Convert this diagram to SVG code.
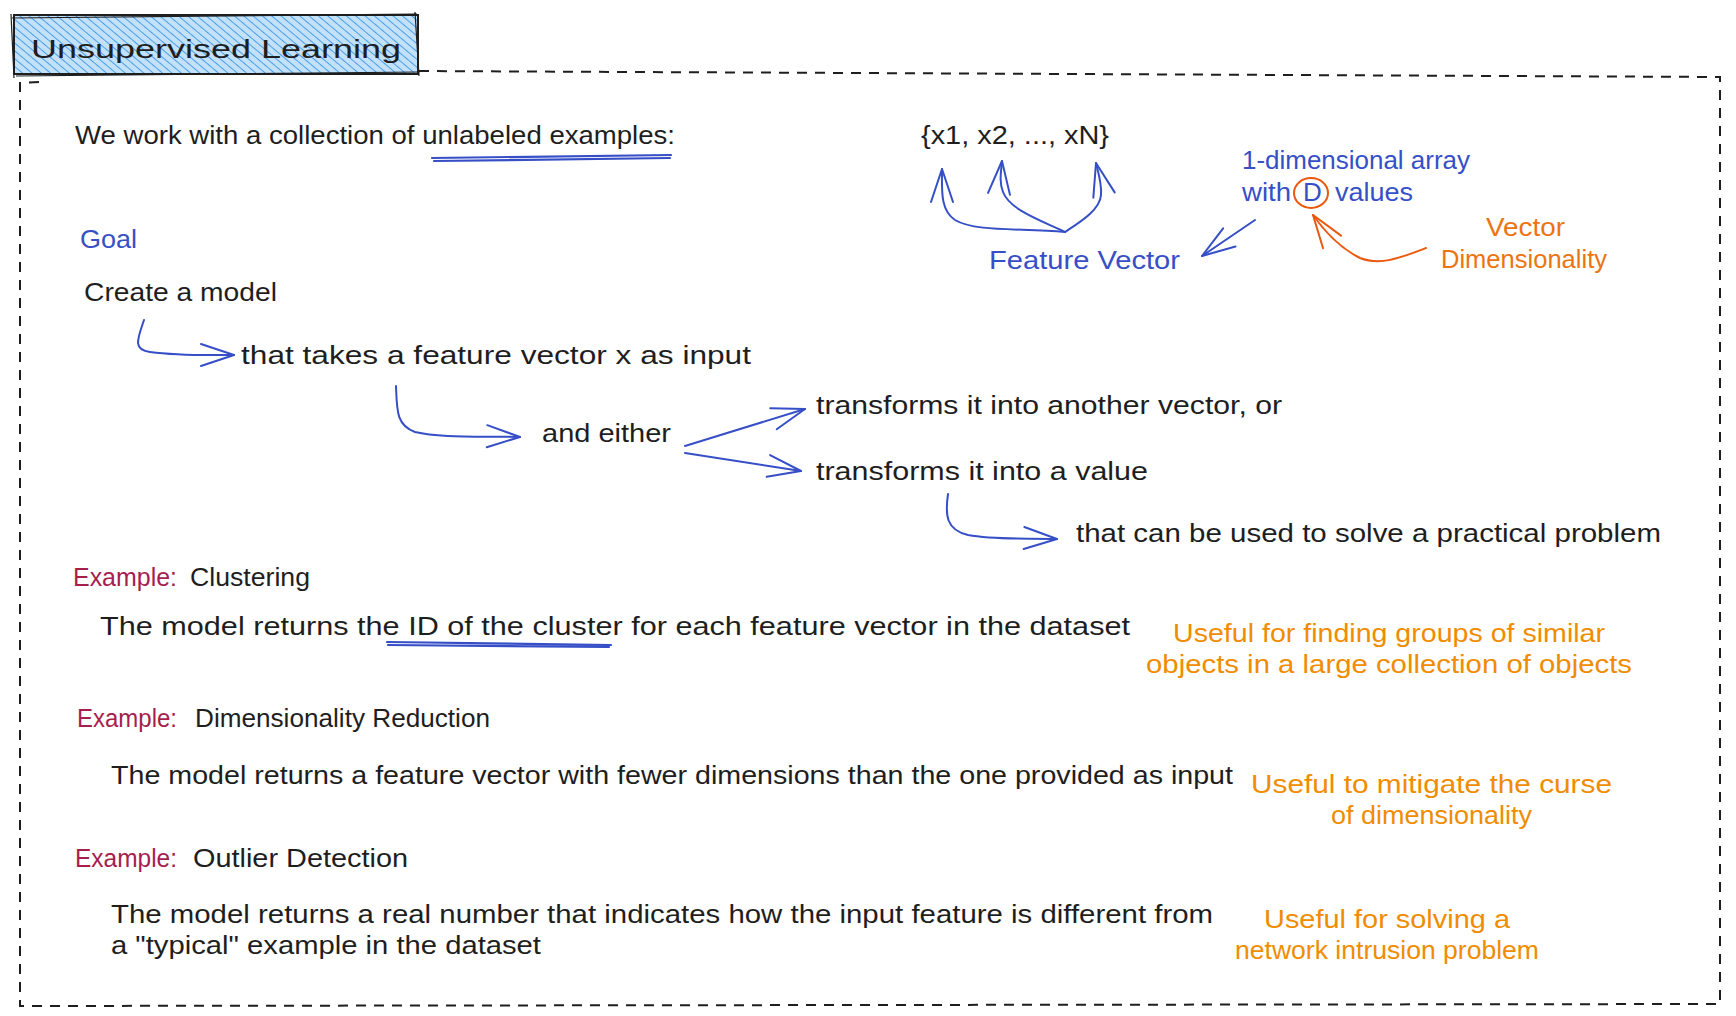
<svg xmlns="http://www.w3.org/2000/svg" width="1736" height="1016" viewBox="0 0 1736 1016">
<style>
.t{font-family:"Liberation Sans",Arial,sans-serif;font-size:26px;fill:#1e1e1e}
.blue{fill:#364fc7}
.org{fill:#f08c00}
.org2{fill:#ec7410}
.ex{fill:#a61e4d}
.c{fill:none;stroke:#364fc7;stroke-width:2;stroke-linecap:round;stroke-linejoin:round}
.co{fill:none;stroke:#e8590c;stroke-width:2;stroke-linecap:round;stroke-linejoin:round}
.ul{fill:none;stroke:#364fc7;stroke-width:2.2;stroke-linecap:round}
</style>
<defs>
<pattern id="hatch" patternUnits="userSpaceOnUse" width="6" height="6" patternTransform="rotate(-50)">
<rect width="6" height="6" fill="#c4e1fa"/>
<line x1="0" y1="0" x2="0" y2="6" stroke="#4a9fe8" stroke-width="2"/>
</pattern>
<marker id="ah" viewBox="0 0 36 26" refX="35" refY="13" markerWidth="36" markerHeight="26" markerUnits="userSpaceOnUse" orient="auto">
<path d="M2,2 L35,13 L2,24" fill="none" stroke="#364fc7" stroke-width="2" stroke-linecap="round" stroke-linejoin="round"/>
</marker>
<marker id="aho" viewBox="0 0 36 26" refX="35" refY="13" markerWidth="36" markerHeight="26" markerUnits="userSpaceOnUse" orient="auto">
<path d="M2,2 L35,13 L2,24" fill="none" stroke="#e8590c" stroke-width="2" stroke-linecap="round" stroke-linejoin="round"/>
</marker>
</defs>
<rect width="1736" height="1016" fill="#ffffff"/>

<g id="frame">
<path d="M419,71 L1720,77 L1720,1004 L20,1006 L20,83 L40,82" fill="none" stroke="#1e1e1e" stroke-width="2" stroke-dasharray="10,8"/>
</g>

<g id="title">
<rect x="14" y="15" width="404" height="59" fill="url(#hatch)" stroke="#1e1e1e" stroke-width="2"/>
<path d="M12,18 L417,14 M16,76 L420,72 M11,14 L14,78 M415,12 L419,76" fill="none" stroke="#1e1e1e" stroke-width="1.2"/>
<text class="t" x="31" y="58" font-size="40" textLength="370" lengthAdjust="spacingAndGlyphs">Unsupervised Learning</text>
</g>

<g id="intro">
<text class="t" x="75" y="144" textLength="600" lengthAdjust="spacingAndGlyphs">We work with a collection of unlabeled examples:</text>
<path class="ul" d="M432,158 L671,155 M434,161 L670,158"/>
</g>
<g id="set">
<text class="t" x="921" y="144" textLength="188" lengthAdjust="spacingAndGlyphs">{x1, x2, ..., xN}</text>
</g>
<g id="array">
<text class="t blue" x="1242" y="169" font-size="24" textLength="228" lengthAdjust="spacingAndGlyphs">1-dimensional array</text>
<text class="t blue" x="1242" y="201" font-size="24" textLength="49" lengthAdjust="spacingAndGlyphs">with</text>
<text class="t blue" x="1303" y="201" font-size="24">D</text>
<text class="t blue" x="1335" y="201" font-size="24" textLength="78" lengthAdjust="spacingAndGlyphs">values</text>
<ellipse cx="1311" cy="193" rx="17" ry="15" fill="none" stroke="#e8590c" stroke-width="2"/>
</g>
<g id="dim">
<text class="t org2" x="1486" y="236" font-size="24" textLength="79" lengthAdjust="spacingAndGlyphs">Vector</text>
<text class="t org2" x="1441" y="268" font-size="24" textLength="166" lengthAdjust="spacingAndGlyphs">Dimensionality</text>
</g>
<g id="fv">
<text class="t blue" x="989" y="269" textLength="191" lengthAdjust="spacingAndGlyphs">Feature Vector</text>
</g>
<g id="goal">
<text class="t blue" x="80" y="248" font-size="22" textLength="57" lengthAdjust="spacingAndGlyphs">Goal</text>
</g>
<g id="create">
<text class="t" x="84" y="301" textLength="193" lengthAdjust="spacingAndGlyphs">Create a model</text>
</g>
<g id="takes">
<text class="t" x="241" y="364" textLength="510" lengthAdjust="spacingAndGlyphs">that takes a feature vector x as input</text>
</g>
<g id="either">
<text class="t" x="542" y="442" textLength="129" lengthAdjust="spacingAndGlyphs">and either</text>
</g>
<g id="tvec">
<text class="t" x="816" y="414" textLength="466" lengthAdjust="spacingAndGlyphs">transforms it into another vector, or</text>
</g>
<g id="tval">
<text class="t" x="816" y="480" textLength="332" lengthAdjust="spacingAndGlyphs">transforms it into a value</text>
</g>
<g id="solve">
<text class="t" x="1076" y="542" textLength="585" lengthAdjust="spacingAndGlyphs">that can be used to solve a practical problem</text>
</g>

<g id="ex1">
<text class="t ex" x="73" y="586" font-size="24" textLength="104" lengthAdjust="spacingAndGlyphs">Example:</text>
<text class="t" x="190" y="586" font-size="24" textLength="120" lengthAdjust="spacingAndGlyphs">Clustering</text>
<text class="t" x="100" y="635" textLength="1030" lengthAdjust="spacingAndGlyphs">The model returns the ID of the cluster for each feature vector in the dataset</text>
<path class="ul" d="M387,642 L611,645 M388,645 L609,647"/>
<text class="t org" x="1173" y="642" textLength="432" lengthAdjust="spacingAndGlyphs">Useful for finding groups of similar</text>
<text class="t org" x="1146" y="673" textLength="486" lengthAdjust="spacingAndGlyphs">objects in a large collection of objects</text>
</g>
<g id="ex2">
<text class="t ex" x="77" y="727" font-size="24" textLength="100" lengthAdjust="spacingAndGlyphs">Example:</text>
<text class="t" x="195" y="727" font-size="24" textLength="295" lengthAdjust="spacingAndGlyphs">Dimensionality Reduction</text>
<text class="t" x="111" y="784" textLength="1122" lengthAdjust="spacingAndGlyphs">The model returns a feature vector with fewer dimensions than the one provided as input</text>
<text class="t org" x="1251" y="793" textLength="361" lengthAdjust="spacingAndGlyphs">Useful to mitigate the curse</text>
<text class="t org" x="1331" y="824" textLength="201" lengthAdjust="spacingAndGlyphs">of dimensionality</text>
</g>
<g id="ex3">
<text class="t ex" x="75" y="867" font-size="24" textLength="102" lengthAdjust="spacingAndGlyphs">Example:</text>
<text class="t" x="193" y="867" font-size="24" textLength="215" lengthAdjust="spacingAndGlyphs">Outlier Detection</text>
<text class="t" x="111" y="923" textLength="1102" lengthAdjust="spacingAndGlyphs">The model returns a real number that indicates how the input feature is different from</text>
<text class="t" x="111" y="954" textLength="430" lengthAdjust="spacingAndGlyphs">a "typical" example in the dataset</text>
<text class="t org" x="1264" y="928" textLength="246" lengthAdjust="spacingAndGlyphs">Useful for solving a</text>
<text class="t org" x="1235" y="959" textLength="304" lengthAdjust="spacingAndGlyphs">network intrusion problem</text>
</g>

<g id="connectors">
<path id="a-create-takes" class="c" marker-end="url(#ah)" d="M144,320 C138,338 132,350 150,352 C180,356 205,355 234,355"/>
<path id="a-takes-either" class="c" marker-end="url(#ah)" d="M396,386 C397,410 396,425 415,432 C440,438 480,436 520,437"/>
<path id="a-either-tvec" class="c" marker-end="url(#ah)" d="M685,446 L805,409"/>
<path id="a-either-tval" class="c" marker-end="url(#ah)" d="M685,453 L801,471"/>
<path id="a-tval-solve" class="c" marker-end="url(#ah)" d="M948,494 C945,515 946,530 968,535 C995,540 1025,538 1057,539"/>
<path id="a-fv-x1" class="c" marker-end="url(#ah)" d="M1065,232 C1020,228 975,232 955,220 C940,210 942,190 942,169"/>
<path id="a-fv-x2" class="c" marker-end="url(#ah)" d="M1065,232 C1040,220 1010,210 1003,192 C999,182 1001,172 1002,161"/>
<path id="a-fv-xN" class="c" marker-end="url(#ah)" d="M1065,232 C1080,222 1100,210 1101,195 C1102,185 1099,175 1096,163"/>
<path id="a-array-fv" class="c" marker-end="url(#ah)" d="M1255,220 L1202,256"/>
<path id="a-dim-D" class="co" marker-end="url(#aho)" d="M1426,248 C1400,258 1380,266 1360,258 C1340,248 1325,232 1313,215"/>
</g>
</svg>
